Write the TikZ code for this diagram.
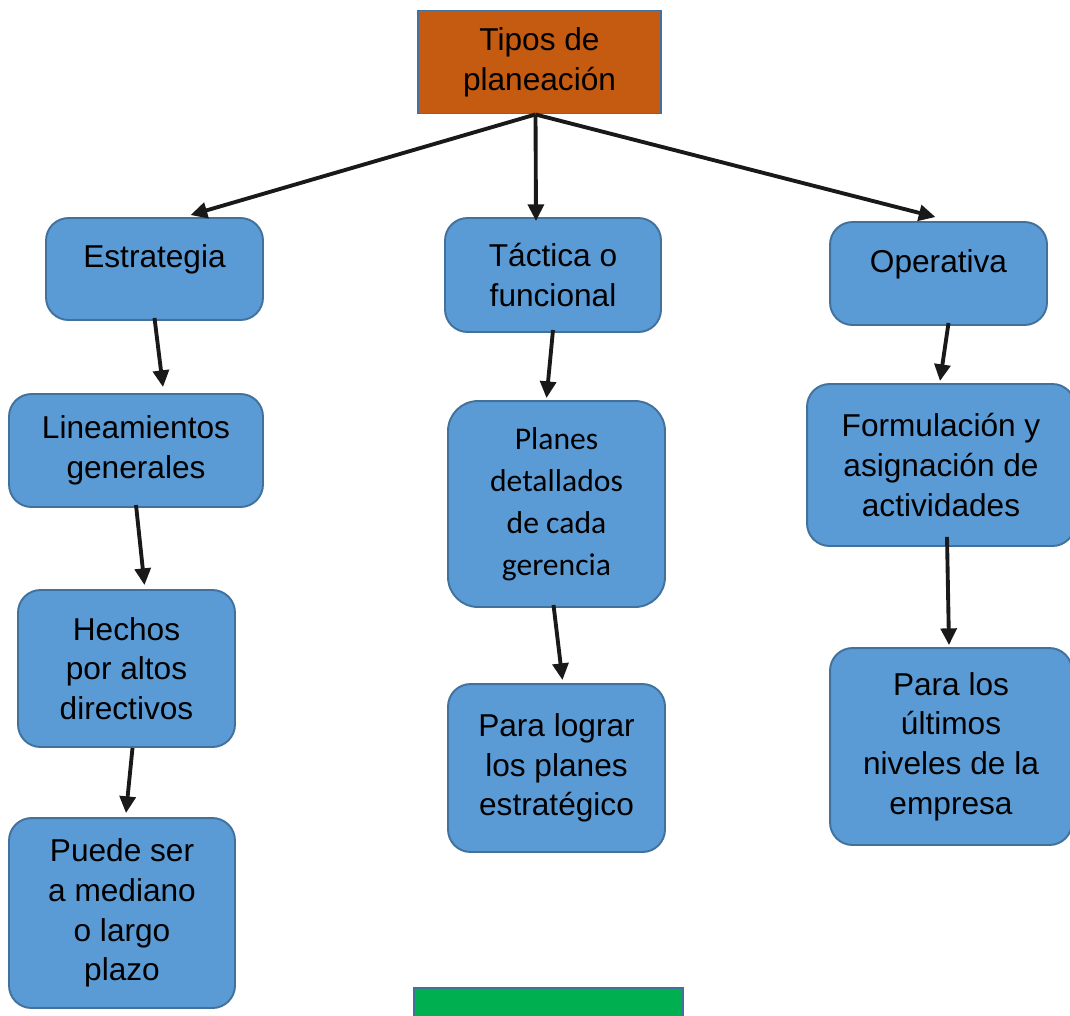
\documentclass[tikz,border=0pt]{standalone}
\usepackage{fontspec}
\setmainfont{Liberation Sans}
\newfontfamily\calibrifont{Carlito}
\usetikzlibrary{calc}
\usetikzlibrary{arrows.meta}
\definecolor{boxfill}{HTML}{5B9BD5}
\definecolor{boxline}{HTML}{41719C}
\definecolor{topfill}{HTML}{C55A11}
\definecolor{greenfill}{HTML}{00B050}

\begin{document}
\begin{tikzpicture}[x=0.02cm,y=-0.02cm]
  \tikzstyle{box}=[rectangle,rounded corners=0.45cm,draw=boxline,fill=boxfill,line width=1.1pt,align=center,inner sep=0pt,font=\fontsize{18}{22.6}\selectfont]
  \tikzstyle{link}=[-{Triangle[length=9.5pt,width=9pt]},line width=2.2pt,draw=black!90]
  \clip (0,0) rectangle (1070,1015);
  % nodes
  \node[box,rounded corners=0pt,fill=topfill,minimum width=4.86cm,minimum height=2.06cm] (tipos) at (539.5,62) {Tipos de\\planeación};
  \node[box,minimum width=4.34cm,minimum height=2.04cm,text depth=0.5cm] (estr) at (154.5,269) {Estrategia};
  \node[box,minimum width=4.32cm,minimum height=2.28cm] (tact) at (553,275) {Táctica o\\funcional};
  \node[box,minimum width=4.34cm,minimum height=2.06cm,text depth=0.5cm] (oper) at (938.5,273.5) {Operativa};
  \node[box,minimum width=5.08cm,minimum height=2.26cm] (lin) at (136,450.5) {Lineamientos\\generales};
  \node[box,minimum width=4.34cm,minimum height=4.12cm,rounded corners=0.6cm,font=\calibrifont\fontsize{18}{24}\selectfont] (plan) at (556.5,504) {Planes\\detallados\\de cada\\gerencia};
  \node[box,minimum width=5.36cm,minimum height=3.24cm] (form) at (941,465) {Formulación y\\asignación de\\actividades};
  \node[box,minimum width=4.34cm,minimum height=3.14cm] (hech) at (126.5,668.5) {Hechos\\por altos\\directivos};
  \node[box,minimum width=4.34cm,minimum height=3.36cm] (lograr) at (556.5,768) {Para lograr\\los planes\\estratégico};
  \node[box,minimum width=4.84cm,minimum height=3.94cm] (ult) at (951,746.5) {Para los\\últimos\\niveles de la\\empresa};
  \node[box,minimum width=4.52cm,minimum height=3.8cm] (puede) at (122,913) {Puede ser\\a mediano\\o largo\\plazo};
  \node[box,rounded corners=0pt,fill=greenfill,minimum width=5.38cm,minimum height=1.28cm] (verde) at (548.5,1020) {};
  % connectors
  \draw[link] ($(tipos.south)+(-4,0)$) -- ($(estr.north)+(36,-2)$);
  \draw[link] ($(tipos.south)+(-4,0)$) -- ($(tact.north)+(-17,4)$);
  \draw[link] ($(tipos.south)+(-4,0)$) -- ($(oper.north)+(-3,-4)$);
  \draw[link] ($(estr.south)+(0,-3)$) -- ($(lin.north)+(27,-6)$);
  \draw[link] ($(lin.south)+(0,-3)$) -- ($(hech.north)+(18,-4)$);
  \draw[link] ($(hech.south)+(6,0)$) -- ($(puede.north)+(4,-4)$);
  \draw[link] ($(tact.south)+(0,-3)$) -- ($(plan.north)+(-10,-2)$);
  \draw[link] ($(plan.south)+(-3,-3)$) -- ($(lograr.north)+(6,-3)$);
  \draw[link] ($(oper.south)+(10,-3)$) -- ($(form.north)+(-1,-2)$);
  \draw[link] ($(form.south)+(6,-10)$) -- ($(ult.north)+(-2,-2)$);
\end{tikzpicture}
\end{document}
